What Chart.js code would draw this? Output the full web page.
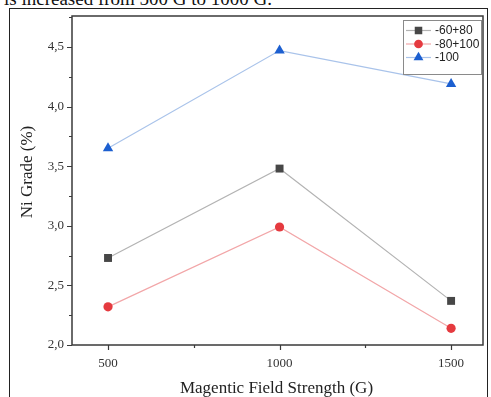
<!DOCTYPE html>
<html>
<head>
<meta charset="utf-8">
<script src="https://cdn.jsdelivr.net/npm/chart.js@4/dist/chart.umd.min.js"></script>
<style>
html,body{margin:0;padding:0;background:#fff;overflow:hidden;width:491px;height:397px;}
#cap{position:absolute;left:4px;top:-11px;font-family:"Liberation Serif",serif;font-size:19px;color:#111;white-space:nowrap;line-height:20px;}
#frame{position:absolute;left:9px;top:8px;width:479px;height:400px;border:1px solid #222;box-sizing:border-box;background:#fff;}
#wrap{position:absolute;left:0;top:0;width:491px;height:397px;}
</style>
</head>
<body>
<div id="cap">is increased from 500 G to 1000 G.</div>
<div id="frame"></div>
<div id="wrap"><canvas id="c" width="491" height="397"></canvas></div>
<script>
const fieldStrength = [500, 1000, 1500];
const seriesNames = ['-60+80', '-80+100', '-100'];
const grade_60_80 = [2.73, 3.48, 2.37];
const grade_80_100 = [2.32, 2.99, 2.14];
const grade_100 = [3.65, 4.47, 4.19];
const yMajorTicks = [2.0, 2.5, 3.0, 3.5, 4.0, 4.5];
const yMinorTicks = [2.25, 2.75, 3.25, 3.75, 4.25, 4.75];
const xMajorTicks = [500, 1000, 1500];
const xMinorTicks = [750, 1250];

const markerColors = ['#474747', '#e53a3f', '#1c5fd0'];
const lineColors = ['#b3b3b3', '#f2a6a8', '#a9c3ea'];
const styles = ['rect', 'circle', 'triangle'];
const radii = [5.6, 4.6, 6.0];
const seriesData = [grade_60_80, grade_80_100, grade_100];

const datasets = seriesData.map((vals, i) => ({
  label: seriesNames[i],
  data: fieldStrength.map((x, j) => ({x: x, y: vals[j]})),
  borderColor: lineColors[i],
  borderWidth: 1.2,
  pointStyle: styles[i],
  pointRadius: radii[i],
  pointHoverRadius: radii[i],
  pointBackgroundColor: markerColors[i],
  pointBorderColor: markerColors[i],
  pointBorderWidth: 0,
  tension: 0
}));

function drawMarker(ctx, style, x, y, r, color) {
  ctx.save();
  ctx.fillStyle = color;
  ctx.beginPath();
  if (style === 'rect') {
    const s = Math.SQRT1_2 * r;
    ctx.rect(x - s, y - s, 2 * s, 2 * s);
  } else if (style === 'circle') {
    ctx.arc(x, y, r, 0, Math.PI * 2);
  } else {
    const a = Math.PI / 2;
    ctx.moveTo(x + Math.cos(-a) * r, y + Math.sin(-a) * r);
    ctx.lineTo(x + Math.cos(-a + 2 * Math.PI / 3) * r, y + Math.sin(-a + 2 * Math.PI / 3) * r);
    ctx.lineTo(x + Math.cos(-a + 4 * Math.PI / 3) * r, y + Math.sin(-a + 4 * Math.PI / 3) * r);
    ctx.closePath();
  }
  ctx.fill();
  ctx.restore();
}

const framePlugin = {
  id: 'framePlugin',
  afterDraw(chart) {
    const ctx = chart.ctx;
    const a = chart.chartArea;
    const xs = chart.scales.x, ys = chart.scales.y;
    ctx.save();
    ctx.strokeStyle = '#3a3a3a';
    ctx.lineWidth = 1.5;
    ctx.strokeRect(a.left, a.top, a.right - a.left, a.bottom - a.top);
    ctx.lineWidth = 1.2;
    ctx.beginPath();
    yMajorTicks.forEach(v => { const p = Math.round(ys.getPixelForValue(v)) + 0.5; ctx.moveTo(a.left, p); ctx.lineTo(a.left - 5, p); });
    yMinorTicks.forEach(v => { const p = Math.round(ys.getPixelForValue(v)) + 0.5; ctx.moveTo(a.left, p); ctx.lineTo(a.left - 3, p); });
    xMajorTicks.forEach(v => { const p = Math.round(xs.getPixelForValue(v)) + 0.5; ctx.moveTo(p, a.bottom); ctx.lineTo(p, a.bottom + 5); });
    xMinorTicks.forEach(v => { const p = Math.round(xs.getPixelForValue(v)) + 0.5; ctx.moveTo(p, a.bottom); ctx.lineTo(p, a.bottom + 3); });
    ctx.stroke();

    // axis titles
    ctx.fillStyle = '#222';
    ctx.font = '17px "Liberation Serif", serif';
    ctx.textAlign = 'center';
    ctx.textBaseline = 'middle';
    ctx.fillText('Magentic Field Strength (G)', (a.left + a.right) / 2 - 1, 389);
    ctx.save();
    ctx.translate(28, 172);
    ctx.rotate(-Math.PI / 2);
    ctx.fillText('Ni Grade (%)', 0, 0);
    ctx.restore();

    // legend
    const lx = 403, ly = 20, lw = 78, lh = 54;
    ctx.fillStyle = '#fff';
    ctx.fillRect(lx, ly, lw, lh);
    ctx.strokeStyle = '#8a8a8a';
    ctx.lineWidth = 1;
    ctx.strokeRect(lx + 0.5, ly + 0.5, lw, lh);
    ctx.font = '12px "Liberation Sans", Arial, sans-serif';
    ctx.textAlign = 'left';
    const rows = [30.5, 44, 57.5];
    chart.data.datasets.forEach((ds, i) => {
      const y = rows[i];
      ctx.strokeStyle = ds.borderColor;
      ctx.lineWidth = 1.2;
      ctx.beginPath();
      ctx.moveTo(406, y); ctx.lineTo(431, y);
      ctx.stroke();
      drawMarker(ctx, ds.pointStyle, 418.5, y, ds.pointRadius * 0.95, ds.pointBackgroundColor);
      ctx.fillStyle = '#222';
      ctx.fillText(ds.label, 435, y + 0.5);
    });
    ctx.restore();
  }
};

new Chart(document.getElementById('c'), {
  type: 'line',
  data: {datasets: datasets},
  plugins: [framePlugin],
  options: {
    responsive: false,
    animation: false,
    layout: {padding: {top: 16, right: 8, left: 0, bottom: 0}},
    plugins: {legend: {display: false}, tooltip: {enabled: false}},
    scales: {
      x: {
        type: 'linear',
        min: 395, max: 1593,
        grid: {display: false, drawTicks: false},
        border: {display: false},
        afterBuildTicks: s => { s.ticks = xMajorTicks.map(v => ({value: v})); },
        afterFit: s => { s.height = 52; },
        ticks: {
          padding: 11,
          color: '#333',
          font: {family: '"Liberation Serif", serif', size: 13},
          maxRotation: 0,
          callback: v => String(v)
        }
      },
      y: {
        type: 'linear',
        min: 2.0, max: 4.76,
        grid: {display: false, drawTicks: false},
        border: {display: false},
        afterBuildTicks: s => { s.ticks = yMajorTicks.map(v => ({value: v})); },
        afterFit: s => { s.width = 72; },
        ticks: {
          padding: 8,
          color: '#333',
          font: {family: '"Liberation Serif", serif', size: 13},
          callback: v => Number(v).toFixed(1).replace('.', ',')
        }
      }
    }
  }
});
</script>
</body>
</html>
